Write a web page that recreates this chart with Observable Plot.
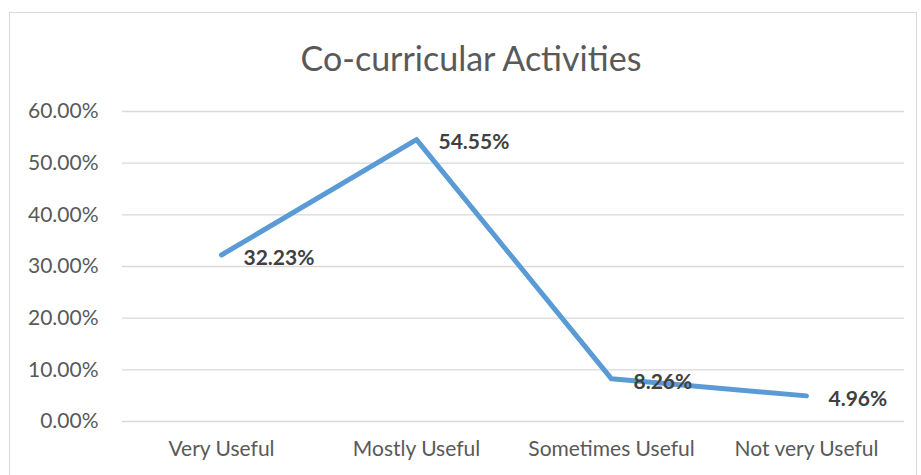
<!DOCTYPE html>
<html>
<head>
<meta charset="utf-8">
<script src="https://cdn.jsdelivr.net/npm/d3@7"></script>
<script src="https://cdn.jsdelivr.net/npm/@observablehq/plot@0.6"></script>
<style>
  html, body { margin: 0; padding: 0; background: #fff; }
  #wrap { position: relative; width: 921px; height: 475px; overflow: hidden; font-family: Lato, "Open Sans", sans-serif; }
  #border { position: absolute; left: 9px; top: 12px; width: 908px; height: 470px; border: 1px solid #d9d9d9; box-sizing: border-box; }
  #title { position: absolute; left: 0; width: 942px; top: 37px; text-align: center; font-size: 34px; color: #595959; line-height: 42px; }
  #chart { position: absolute; left: 0; top: 0; }
</style>
</head>
<body>
<div id="wrap">
  <div id="border"></div>
  <div id="title">Co-curricular Activities</div>
  <div id="chart"></div>
</div>
<script>
const categories = ["Very Useful", "Mostly Useful", "Sometimes Useful", "Not very Useful"];
const values = [0.3223, 0.5455, 0.0826, 0.0496];
const yTicks = [0, 0.1, 0.2, 0.3, 0.4, 0.5, 0.6];

const data = categories.map((c, i) => ({category: c, value: values[i]}));
const fmt = d3.format(".2%");

const plot = Plot.plot({
  width: 921,
  height: 475,
  marginLeft: 122,
  marginRight: 17,
  marginTop: 111,
  marginBottom: 54,
  style: {fontFamily: "Lato, 'Open Sans', sans-serif", background: "transparent", color: "#595959", overflow: "visible"},
  x: {type: "point", domain: categories, padding: 0.5, label: null},
  y: {domain: [0, 0.6], label: null},
  marks: [
    Plot.ruleY(yTicks, {stroke: "#d9d9d9", strokeWidth: 1.3}),
    Plot.axisY(yTicks, {tickFormat: fmt, tickSize: 0, tickPadding: 24, fontSize: 21, fill: "#595959", label: null}),
    Plot.axisX({tickSize: 0, tickPadding: 20, fontSize: 21, fill: "#595959", label: null}),
    Plot.line(data, {x: "category", y: "value", stroke: "#5b9bd5", strokeWidth: 5, strokeLinecap: "round", strokeLinejoin: "round"}),
    Plot.text(data, {x: "category", y: "value", text: d => fmt(d.value), textAnchor: "start", dx: 22, dy: 3, fontSize: 21, fontWeight: "bold", fill: "#404040"})
  ]
});
document.getElementById("chart").appendChild(plot);
</script>
</body>
</html>
